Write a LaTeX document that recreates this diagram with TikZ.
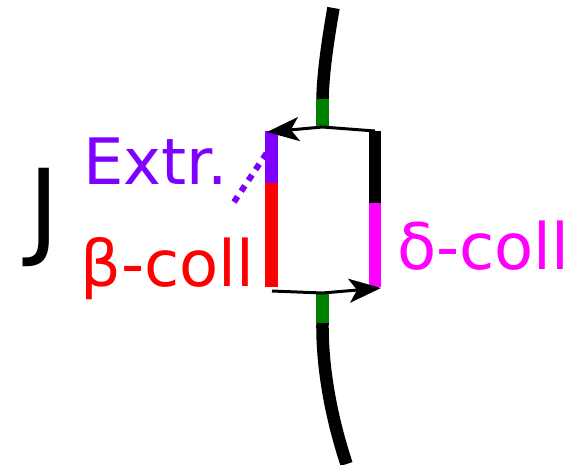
\documentclass[tikz,border=0pt]{standalone}
\usepackage{fontspec}
\setmainfont{DejaVu Sans}
\usetikzlibrary{arrows.meta}
\definecolor{cpurple}{RGB}{127,0,255}
\definecolor{cred}{RGB}{255,0,0}
\definecolor{cmag}{RGB}{255,0,255}
\definecolor{cgreen}{RGB}{0,128,0}
\tikzset{
  chrom/.style={line width=12.5pt, line cap=butt},
  thinline/.style={line width=3pt},
  lbl/.style={anchor=base west, inner sep=0pt, font=\fontsize{64}{64}\selectfont},
}
\begin{document}
\begin{tikzpicture}[x=1pt,y=-1pt]
\useasboundingbox (0,0) rectangle (577,464);
% coordinates
\coordinate (top) at (333.5,8);
\coordinate (gtT) at (322.5,99);
\coordinate (gtB) at (322.5,127);
\coordinate (gbT) at (322.5,293);
\coordinate (gbB) at (322.5,323);
\coordinate (bot) at (346.5,464);
\coordinate (LT) at (271.5,131);
\coordinate (LM) at (271.5,183);
\coordinate (LB) at (271.5,287);
\coordinate (RT) at (375,131);
\coordinate (RM) at (375,203);
\coordinate (RB) at (375,287);
\coordinate (ahL) at (267,132);
\coordinate (ahR) at (381,288);
\coordinate (bL) at (272,291);
\coordinate (dA) at (234,202);
\coordinate (dB) at (276,139);
% main strand
\draw[chrom, black] (top) .. controls (327,45) and (323,75) .. (gtT);
\draw[chrom, cgreen] (gtT) -- (gtB);
\draw[chrom, cgreen] (gbT) -- (gbB);
\draw[chrom, black] (gbB) .. controls (322,370) and (332,420) .. (bot);
% bars
\draw[chrom, cpurple] (LT) -- (LM);
\draw[chrom, cred] (LM) -- (LB);
\draw[chrom, black] (RT) -- (RM);
\draw[chrom, cmag] (RM) -- (RB);
% dotted extrusion
\draw[cpurple, line width=6pt, dash pattern=on 6.5pt off 6.5pt] (dA) -- (dB);
% connectors
\draw[thinline] (gtB) -- (RT);
\draw[thinline, -{Stealth[length=32pt 0, width=24pt 0, inset=8pt 0]}] (gtB) -- (ahL);
\draw[thinline] (bL) -- (gbT);
\draw[thinline, -{Stealth[length=32pt 0, width=24pt 0, inset=8pt 0]}] (gbT) -- (ahR);
% labels
\node[lbl, text=cpurple] (extr) at (83,184) {Extr.};
\node[lbl, text=cred] (beta) at (80,286) {β-coll};
\node[lbl, text=cmag] (delta) at (397,269) {δ-coll};
\node[anchor=base west, inner sep=0pt, font=\fontsize{106}{106}\selectfont] (J) at (28,245) {J};
\end{tikzpicture}
\end{document}
